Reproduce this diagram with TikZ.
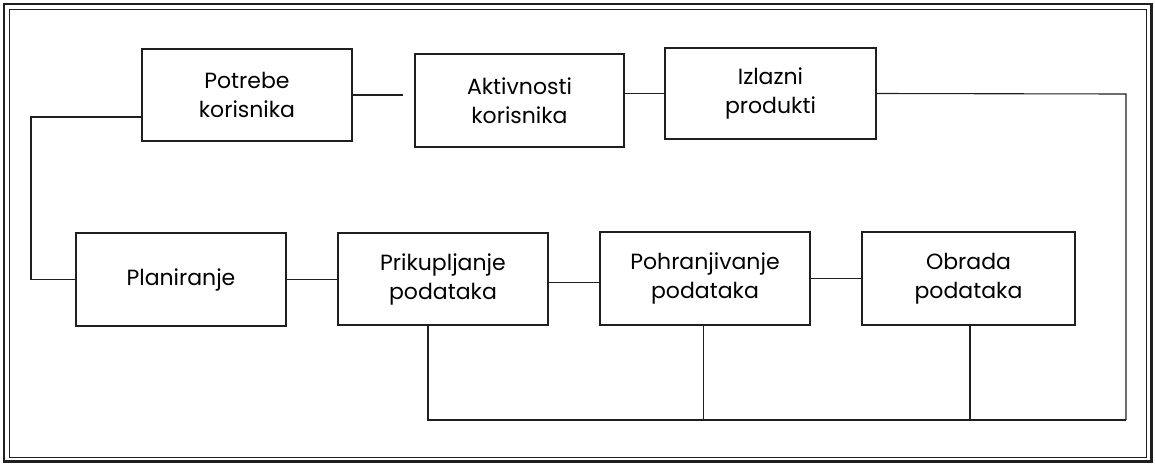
\documentclass[tikz,border=0pt]{standalone}
\usepackage{fontspec}
\setmainfont{Poppins}
\begin{document}
\begin{tikzpicture}[x=1pt,y=-1pt,
  ink/.style={draw=black!88},
  box/.style={ink, line width=1.1pt, align=center, inner sep=0pt,
    font=\fontsize{22}{29}\selectfont},
  link/.style={ink, line width=1.1pt}]
\useasboundingbox (0,0) rectangle (1155,464);
% double page frame
\draw[ink, line width=2.2pt] (4,4) rectangle (1151.5,461.5);
\draw[ink, line width=1pt] (9,9) rectangle (1146.5,457);

% upper row
\node[box, minimum width=210pt, minimum height=92pt] (pot) at (247,95) {Potrebe\\korisnika};
\node[box, minimum width=209pt, minimum height=93pt] (akt) at (519.5,100.5) {Aktivnosti\\korisnika};
\node[box, minimum width=211pt, minimum height=91pt] (izl) at (770.5,93.5) {Izlazni\\produkti};

% lower row
\node[box, minimum width=210pt, minimum height=93pt] (plan) at (181,279.5) {Planiranje};
\node[box, minimum width=210pt, minimum height=92pt] (prik) at (443,279) {Prikupljanje\\podataka};
\node[box, minimum width=210pt, minimum height=93pt] (pohr) at (705,278.5) {Pohranjivanje\\podataka};
\node[box, minimum width=213pt, minimum height=93pt] (obr) at (968.5,278.5) {Obrada\\podataka};

% turning points of the connectors
\coordinate (gap) at (403,95);
\coordinate (lft) at (31,117);
\coordinate (rt) at (1126,94);
\coordinate (busR) at (1126,420);

% connectors
\draw[link] (pot.east) -- (gap);
\draw[link] (akt.east |- izl.west) -- (izl.west);
\draw[link] (izl.east) -- (rt) -- (busR);
\draw[link] (pot.west |- lft) -- (lft) |- (plan.west);
\draw[link] (plan.east) -- (prik.west |- plan.east);
\draw[link] ([yshift=-3.7pt]prik.east) -- ([yshift=-4.2pt]pohr.west);
\draw[link] (pohr.east) -- (obr.west);

% common bus below the lower row
\draw[link] ([xshift=-15pt]prik.south) |- (busR);
\draw[link] ([xshift=-1.7pt]pohr.south) -- ([xshift=-1.7pt]pohr.south |- busR);
\draw[link] ([xshift=1.5pt]obr.south) -- ([xshift=1.5pt]obr.south |- busR);
\end{tikzpicture}
\end{document}
